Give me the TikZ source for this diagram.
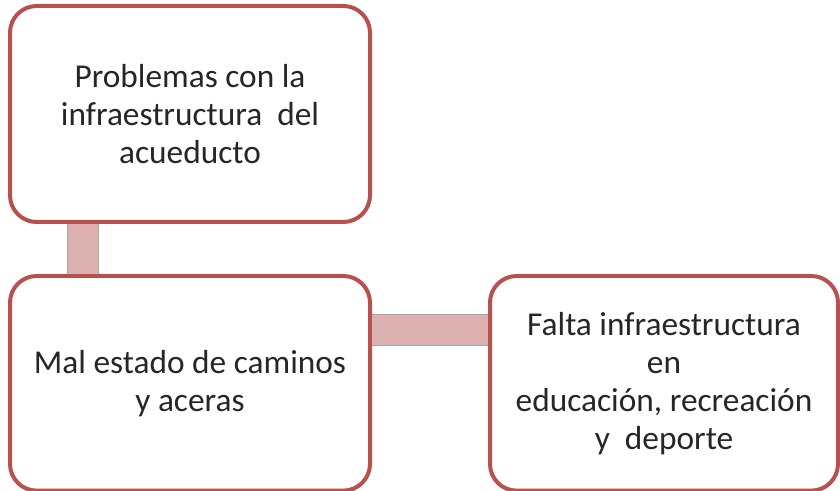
\documentclass[tikz,border=0pt]{standalone}
\usepackage{fontspec}
\setmainfont{Carlito}
\usetikzlibrary{positioning}

\definecolor{boxred}{RGB}{184,80,77}
\definecolor{barpink}{RGB}{219,176,175}
\definecolor{bargray}{RGB}{165,165,165}

\begin{document}
\begin{tikzpicture}[x=0.75pt, y=-0.75pt, node distance=37.5pt and 87pt,
        every node/.style={font=\fontsize{25}{28.5}\selectfont, text=black!85},
        problem/.style={draw=boxred, line width=3pt, rounded corners=20pt, fill=white, align=center, minimum width=270pt},
        link/.style={draw=bargray, line width=0.75pt, double=barpink, double distance=22.5pt}]
        \useasboundingbox (0,0) rectangle (840,491);

        % Problems
        \node[problem, minimum height=162pt] (P1) at (190,114) {Problemas con la\\infraestructura\ \ del\\acueducto};
        \node[problem, minimum height=161pt, below=of P1] (P2) {Mal estado de caminos\\y aceras};
        \node[problem, minimum height=161pt, minimum width=261pt, right=of P2] (P3) {Falta infraestructura\\en\\educación, recreación\\y\ \ deporte};

        % Connectors
        \draw[link] ([xshift=-80.25pt]P1.south) -- ([xshift=-80.25pt]P2.north);
        \draw[link] ([yshift=39.75pt]P2.east) -- ([yshift=39.75pt]P3.west);
    \end{tikzpicture}
\end{document}
